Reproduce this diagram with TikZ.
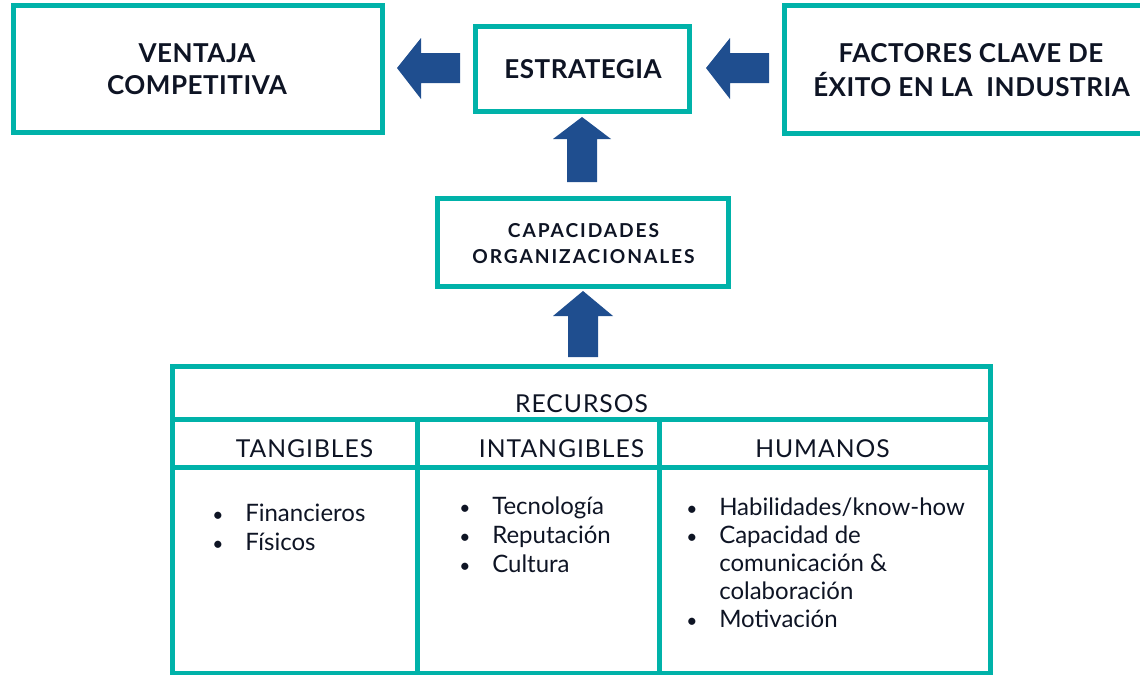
\documentclass[tikz,border=0pt]{standalone}
\usepackage{fontspec}
\setmainfont{Lato}
\newfontfamily\spacedfont[LetterSpace=10]{Lato}
\newfontfamily\headfont[LetterSpace=2]{Lato}
\newfontfamily\colfont[LetterSpace=4]{Lato}
\usetikzlibrary{fit}
\definecolor{boxteal}{RGB}{0,178,169}
\definecolor{arrowblue}{RGB}{31,78,143}
\definecolor{ink}{RGB}{14,20,36}
\newcommand{\bul}{\makebox[24.75pt][l]{\scalebox{0.8}{•}}}
\begin{document}
\begin{tikzpicture}[x=0.75pt,y=-0.75pt,
  box/.style={draw=boxteal,line width=3.75pt,inner sep=0pt},
  cell/.style={draw=boxteal,line width=3.75pt,inner sep=0pt},
  head/.style={font=\headfont\fontsize{19.5}{22}\selectfont\bfseries,text=ink,anchor=base,inner sep=0pt},
  smallhead/.style={font=\spacedfont\fontsize{14.4}{16}\selectfont\bfseries,text=ink,anchor=base,inner sep=0pt},
  colhead/.style={font=\colfont\fontsize{18.5}{21}\selectfont,text=ink,anchor=base,inner sep=0pt},
  list/.style={text=ink,align=left,anchor=base west,inner sep=0pt},
  blockarrow/.style={fill=arrowblue}]
\useasboundingbox (0,0) rectangle (1140,675);

% top boxes
\node[box,fit={(13.5,5.5) (382.5,132.5)}] (ventaja) {};
\node[box,fit={(475.5,26.5) (689.5,111.5)}] (estrategia) {};
\node[box,fit={(784.5,5.5) (1150,133.5)}] (factores) {};
\node[box,fit={(437.5,198.5) (728.5,286.5)}] (capacidades) {};

\node[head] (v1) at (197,62) {VENTAJA};
\node[head] (v2) at (197,94) {COMPETITIVA};
\node[head] (e1) at (583,78) {ESTRATEGIA};
\node[head] (f1) at (971,62) {FACTORES CLAVE DE};
\node[head] (f2) at (971.5,96) {ÉXITO EN LA\ \ INDUSTRIA};
\node[smallhead] (c1) at (583.5,237) {CAPACIDADES};
\node[smallhead] (c2) at (583.5,263) {ORGANIZACIONALES};

% block arrows
\fill[blockarrow] (397,68) -- (421,38) -- (421,53) -- (460,53) -- (460,83) -- (421,83) -- (421,99) -- cycle;
\fill[blockarrow] (706,68) -- (730,38) -- (730,53) -- (769,53) -- (769,83) -- (730,83) -- (730,99) -- cycle;
\fill[blockarrow] (582,117) -- (553,139) -- (567,139) -- (567,182) -- (597,182) -- (597,139) -- (611,139) -- cycle;
\fill[blockarrow] (583,291) -- (553,316) -- (568,316) -- (568,357) -- (598,357) -- (598,316) -- (613,316) -- cycle;

% resources table
\node[cell,fit={(172.5,366.5) (990,419.5)}] (recursos) {};
\node[cell,fit={(172.5,419.5) (417,467.5)}] (tanh) {};
\node[cell,fit={(417,419.5) (659,467.5)}] (intanh) {};
\node[cell,fit={(659,419.5) (990,467.5)}] (humh) {};
\node[cell,fit={(172.5,467.5) (417,673)}] (tanb) {};
\node[cell,fit={(417,467.5) (659,673)}] (intanb) {};
\node[cell,fit={(659,467.5) (990,673)}] (humb) {};

\node[colhead] (rt) at (581.5,412) {RECURSOS};
\node[colhead] (tt) at (304.5,457) {TANGIBLES};
\node[colhead] (it) at (561.5,457) {INTANGIBLES};
\node[colhead] (ht) at (822.5,457) {HUMANOS};

% lists (anchor = baseline of last line)
\node[list,font=\fontsize{18}{21.75}\selectfont] (tl) at (212,550) {\bul Financieros\\\bul Físicos};
\node[list,font=\fontsize{18}{21.4}\selectfont] (il) at (459,572) {\bul Tecnología\\\bul Reputación\\\bul Cultura};
\node[list,font=\fontsize{18}{21}\selectfont] (hl) at (686,627) {\bul Habilidades/know-how\\\bul Capacidad de\\\hspace*{24.75pt}comunicación \&\\\hspace*{24.75pt}colaboración\\\bul Motivación};
\end{tikzpicture}
\end{document}
